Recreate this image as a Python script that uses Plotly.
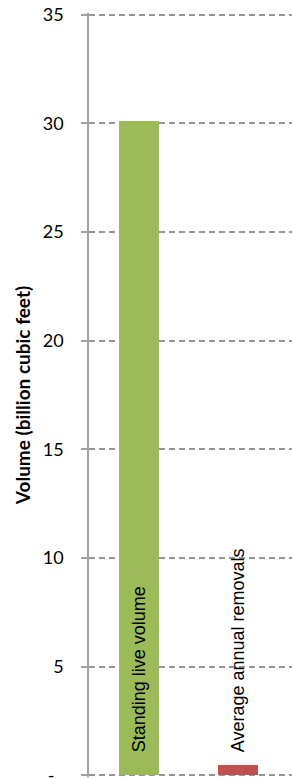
import plotly.graph_objects as go

categories = ["Standing live volume", "Average annual removals"]
values = [30.1, 0.46]
colors = ["#9BBB59", "#C0504D"]
tick_vals = [0, 5, 10, 15, 20, 25, 30, 35]
tick_text = ["-\u00a0\u00a0", "5", "10", "15", "20", "25", "30", "35"]

fig = go.Figure()
fig.add_trace(go.Bar(
    x=list(range(len(categories))), y=values,
    marker=dict(color=colors, line=dict(width=0)),
    width=0.404, hoverinfo="skip",
))

for i, c in enumerate(categories):
    fig.add_annotation(
        x=i, y=0, xref="x", yref="y", text=c, textangle=-90,
        showarrow=False, xanchor="center", yanchor="bottom", yshift=21,
        font=dict(family="Liberation Sans, Arial", size=18, color="#000000"),
    )

fig.update_layout(
    width=292, height=779,
    margin=dict(l=89, r=0, t=13, b=2),
    plot_bgcolor="white", paper_bgcolor="white",
    showlegend=False,
    bargap=0,
    xaxis=dict(range=[-0.505, 1.545], showticklabels=False, showgrid=False,
               zeroline=False, showline=False, ticks=""),
    yaxis=dict(
        range=[-0.08, 35.08], tickvals=tick_vals, ticktext=tick_text,
        showgrid=True, gridcolor="#959595", griddash="6px,4px", gridwidth=1.5,
        zeroline=False, showline=True, linecolor="#a0a0a0", linewidth=1.5,
        ticks="outside", ticklen=6, tickcolor="#a0a0a0", tickwidth=1.5,
        ticklabelstandoff=14, ticklabeloverflow="allow",
        tickfont=dict(family="Lato, Carlito, Calibri", size=18, color="#000000"),
        title=dict(text="Volume (billion cubic feet)", standoff=7,
                   font=dict(family="Lato, Carlito, Calibri", size=19, color="#000000", weight="bold")),
        automargin=False,
    ),
)

fig.write_html(
    "out.html",
    config={"displayModeBar": False},
    post_script="document.body.style.margin='0';document.body.style.overflow='hidden';",
)
